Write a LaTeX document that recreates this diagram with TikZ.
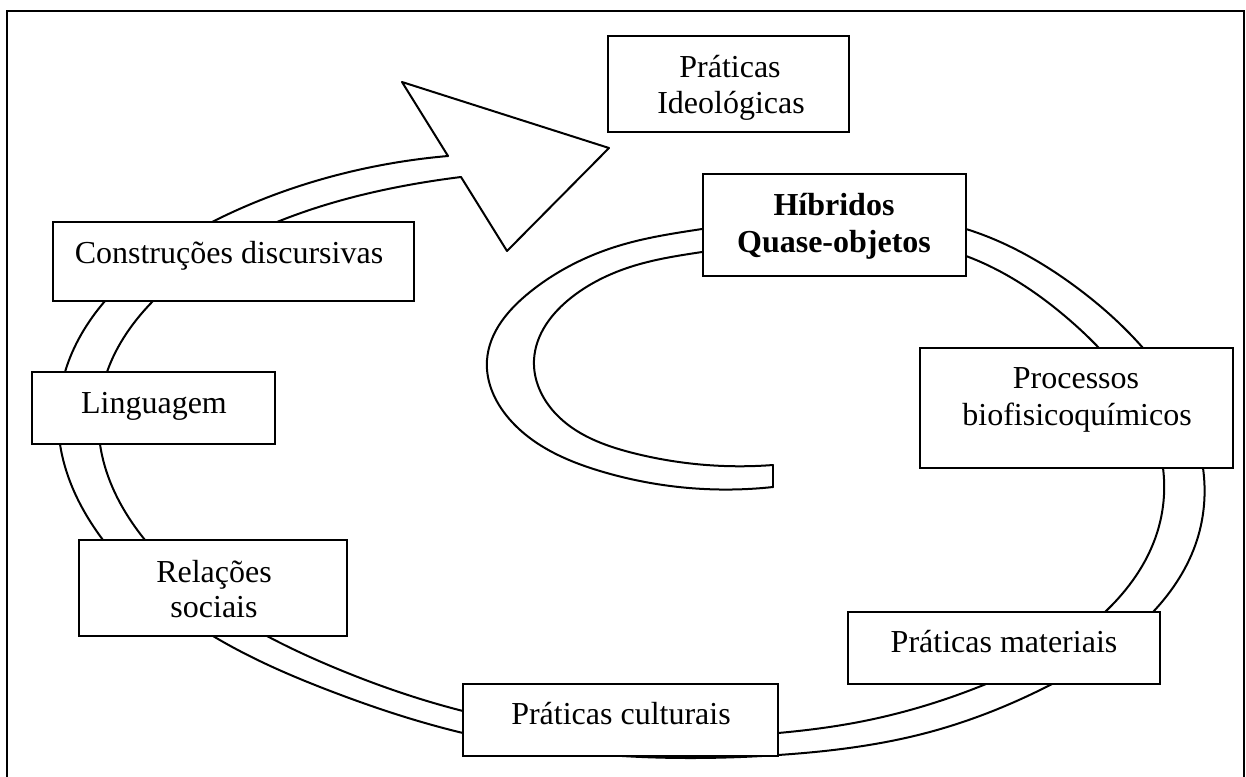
\documentclass[tikz,border=0pt]{standalone}
\usepackage{fontspec}
\setmainfont{Liberation Serif}
\usetikzlibrary{hobby}
\begin{document}
\begin{tikzpicture}[x=0.5pt,y=-0.5pt,
  box/.style={draw, fill=white, rectangle, inner sep=0pt, line width=1pt},
  lbl/.style={anchor=base, inner sep=0pt, font=\fontsize{16}{18.5}\selectfont},
  blbl/.style={lbl, font=\fontsize{16}{18.5}\selectfont\bfseries},
  edgeline/.style={line width=1pt, line join=round, line cap=round}]
\useasboundingbox (0,0) rectangle (1246,776);
% frame
\draw[line width=1pt] (7,780) -- (7,11) -- (1244,11) -- (1244,780);

% spiral band: outer edge
\draw[edgeline, use Hobby shortcut] (773,487) .. (600,471) .. (512,422) .. (487,360)
 .. (530,292) .. (618,246) .. (702,229) .. (966,229) .. (1076,287) .. (1143,348)
 .. (1203,468) .. (1197,540) .. (1153,612) .. (1052,684) .. (926,733) .. (778,755)
 .. (690,758) .. (463,733) .. (333,692) .. (213,636) .. (103,540) .. (60,444)
 .. (65,372) .. (105,301) .. (212,222) .. (367,168) .. (448,156);
% spiral band: inner edge
\draw[edgeline, use Hobby shortcut] (773,465) .. (633,453) .. (555,413) .. (534,360)
 .. (572,297) .. (640,264) .. (702,252) .. (966,256) .. (1066,317) .. (1099,348)
 .. (1163,468) .. (1157,533) .. (1105,612) .. (986,684) .. (859,722) .. (778,733)
 .. (463,711) .. (333,667) .. (267,636) .. (145,540) .. (100,444) .. (107,372)
 .. (153,301) .. (277,222) .. (420,183) .. (461,177);
% end cap of the inner tail
\coordinate (tailA) at (773,487);
\coordinate (tailB) at (773,465);
\draw[edgeline] (tailB) -- (tailA);
% arrow head
\coordinate (nA) at (448,156);
\coordinate (hA) at (402,82);
\coordinate (tip) at (609,148);
\coordinate (hB) at (507,251);
\coordinate (nB) at (461,177);
\draw[edgeline] (nA) -- (hA) -- (tip) -- (hB) -- (nB);

% boxes
\node[box, minimum width=120.5pt, minimum height=48pt] (ideo) at (728.5,84) {};
\node[box, minimum width=131.5pt, minimum height=51pt] (hib) at (834.5,225) {};
\node[box, minimum width=180.5pt, minimum height=39.5pt] (constr) at (233.5,261.5) {};
\node[box, minimum width=121.5pt, minimum height=36pt] (ling) at (153.5,408) {};
\node[box, minimum width=134pt, minimum height=48pt] (rel) at (213,588) {};
\node[box, minimum width=157.5pt, minimum height=36pt] (cult) at (620.5,720) {};
\node[box, minimum width=156pt, minimum height=36pt] (mat) at (1004,648) {};
\node[box, minimum width=156.5pt, minimum height=60pt] (proc) at (1076.5,408) {};

% texts
\node[lbl] (ideo1) at (730,77) {Práticas};
\node[lbl] (ideo2) at (731,113) {Ideológicas};
\node[blbl] (hib1) at (834,215) {Híbridos};
\node[blbl] (hib2) at (834,252) {Quase-objetos};
\node[lbl] (constrt) at (229,263) {Construções discursivas};
\node[lbl] (lingt) at (154,413) {Linguagem};
\node[lbl] (rel1) at (214,582) {Relações};
\node[lbl] (rel2) at (214,617) {sociais};
\node[lbl] (cultt) at (621,724) {Práticas culturais};
\node[lbl] (matt) at (1004,652) {Práticas materiais};
\node[lbl] (proc1) at (1076,388) {Processos};
\node[lbl] (proc2) at (1077,425) {biofisicoquímicos};
\end{tikzpicture}
\end{document}
